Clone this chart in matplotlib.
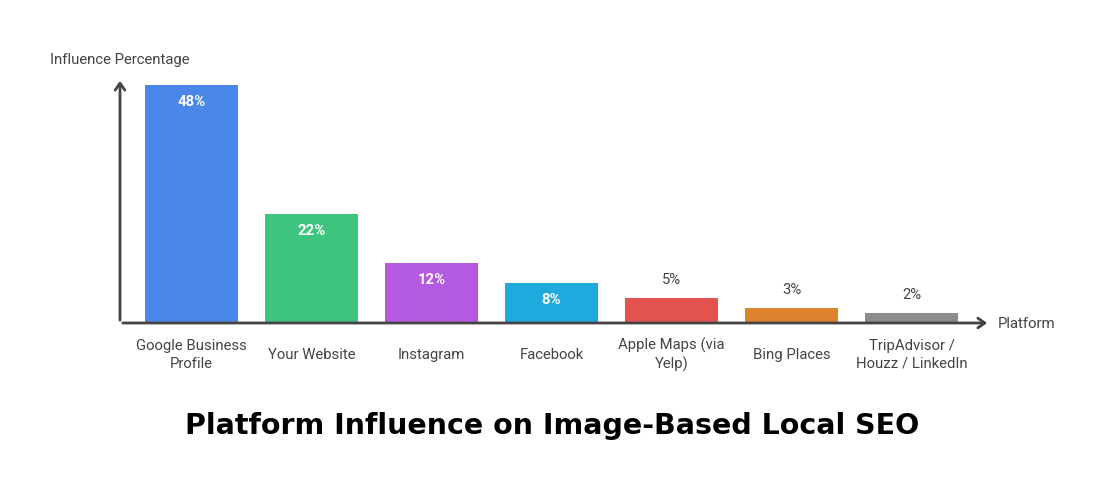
import matplotlib.pyplot as plt

platforms = ['Google Business\nProfile', 'Your Website', 'Instagram', 'Facebook',
             'Apple Maps (via\nYelp)', 'Bing Places', 'TripAdvisor /\nHouzz / LinkedIn']
influence = [48, 22, 12, 8, 5, 3, 2]
colors = ['#4a86e8', '#3ec47f', '#b45ae0', '#1eaadc', '#e35451', '#e0832f', '#8c8c8c']

plt.rcParams['font.family'] = ['Roboto', 'DejaVu Sans']

W, H = 1104, 504
fig = plt.figure(figsize=(W / 100, H / 100), dpi=100)
# axes placed in pixel coordinates: left 120, right 990, bottom 323, top 78
ax = fig.add_axes([120 / W, 1 - 323 / H, 870 / W, 245 / H])

x = list(range(len(platforms)))
ax.bar(x, influence, width=0.775, color=colors, zorder=2)
ax.set_xlim(-0.596, 6.654)
ax.set_ylim(0, 49.4)
ax.axis('off')

for xi, v in zip(x, influence):
    if v >= 8:
        ax.annotate(f'{v}%', (xi, v), xytext=(0, -17), textcoords='offset pixels',
                    ha='center', va='center', color='white', fontsize=10.7,
                    fontweight='bold')
    else:
        ax.annotate(f'{v}%', (xi, v), xytext=(0, 18), textcoords='offset pixels',
                    ha='center', va='center', color='#444444', fontsize=10.7)
    ax.annotate(platforms[xi], (xi, 0), xytext=(0, -32), textcoords='offset pixels',
                ha='center', va='center', color='#444444', fontsize=10.7,
                linespacing=1.35)

# axis arrows
arrow = dict(arrowstyle='->,head_length=0.5,head_width=0.35', color='#444444', lw=2)
ax.annotate('', xy=(1, 0), xytext=(0, 0), xycoords='axes fraction', arrowprops=arrow,
            annotation_clip=False)
ax.annotate('', xy=(0, 1.0), xytext=(0, 0), xycoords='axes fraction', arrowprops=arrow,
            annotation_clip=False)

fig.text(50 / W, 1 - 60 / H, 'Influence Percentage', ha='left', va='center',
         color='#444444', fontsize=10.7)
fig.text(998 / W, 1 - 324 / H, 'Platform', ha='left', va='center',
         color='#444444', fontsize=10.7)
fig.text(552 / W, 1 - 426 / H, 'Platform Influence on Image-Based Local SEO',
         ha='center', va='center', fontsize=20.5, fontweight='bold',
         family='DejaVu Sans', color='black')

fig.savefig('out.png', dpi=100, facecolor='white')
